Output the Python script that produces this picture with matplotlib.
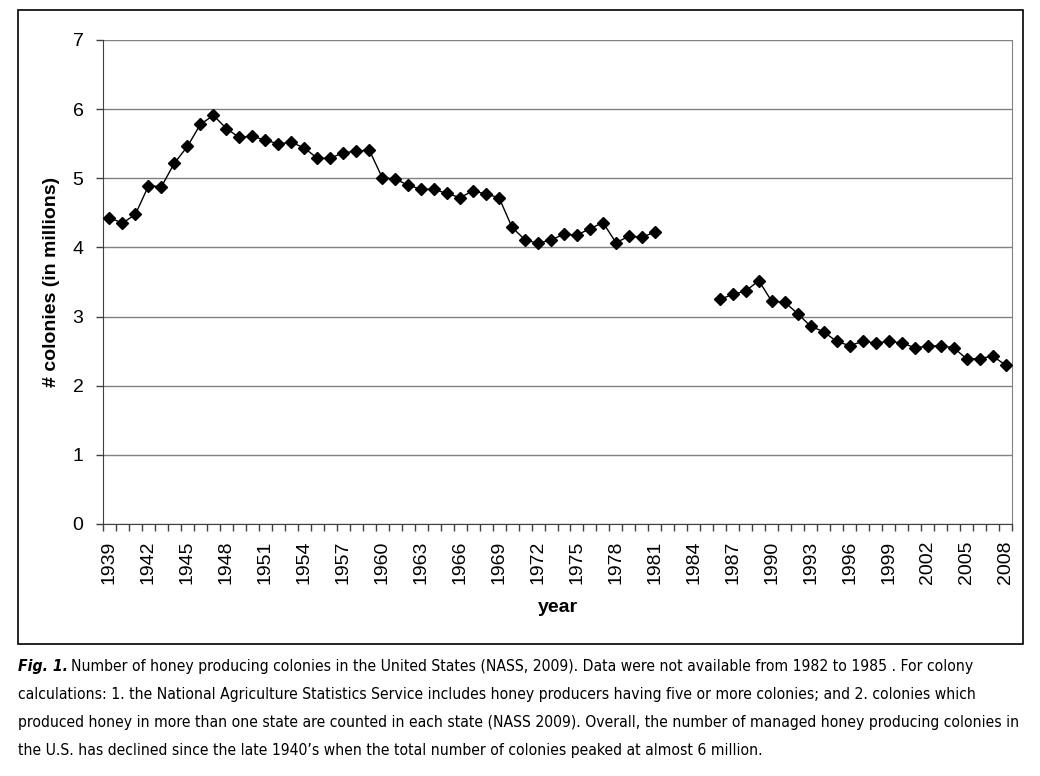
import numpy as np
import matplotlib
matplotlib.use('Agg')
import matplotlib.pyplot as plt
from matplotlib import font_manager
from matplotlib.patches import Rectangle

years = list(range(1939, 2009))
colonies = [4.43, 4.35, 4.48, 4.89, 4.88, 5.22, 5.46, 5.78, 5.91, 5.72,
            5.59, 5.61, 5.55, 5.50, 5.52, 5.44, 5.29, 5.29, 5.37, 5.39,
            5.41, 5.01, 4.99, 4.90, 4.84, 4.84, 4.78, 4.72, 4.82, 4.77,
            4.72, 4.29, 4.11, 4.06, 4.11, 4.19, 4.18, 4.27, 4.36, 4.07,
            4.16, 4.15, 4.22, np.nan, np.nan, np.nan, np.nan, 3.25, 3.32, 3.37,
            3.52, 3.22, 3.21, 3.04, 2.86, 2.78, 2.64, 2.58, 2.64, 2.62,
            2.64, 2.62, 2.55, 2.57, 2.58, 2.55, 2.39, 2.39, 2.43, 2.30]
y_ticks = [0, 1, 2, 3, 4, 5, 6, 7]

caption_lines = [
    "Number of honey producing colonies in the United States (NASS, 2009). Data were not available from 1982 to 1985 . For colony",
    "calculations: 1. the National Agriculture Statistics Service includes honey producers having five or more colonies; and 2. colonies which",
    "produced honey in more than one state are counted in each state (NASS 2009). Overall, the number of managed honey producing colonies in",
    "the U.S. has declined since the late 1940\u2019s when the total number of colonies peaked at almost 6 million.",
]

names = {f.name for f in font_manager.fontManager.ttflist}
cap_font = 'Liberation Sans Narrow' if 'Liberation Sans Narrow' in names else 'DejaVu Sans'
plt.rcParams['font.family'] = ['Liberation Sans', 'DejaVu Sans']

W, H = 1040, 776
fig = plt.figure(figsize=(W / 100, H / 100), dpi=100)
ax = fig.add_axes([103 / W, 1 - 524 / H, (1012 - 103) / W, (524 - 40) / H])

x = np.arange(len(years))
ax.plot(x, colonies, color='black', lw=1, marker='D', markersize=6, zorder=3)

ax.set_xlim(-0.5, len(years) - 0.5)
ax.set_ylim(0, 7)
ax.set_yticks(y_ticks)
ax.yaxis.grid(True, color='#808080', lw=1)
ax.set_axisbelow(True)

ax.set_xticks(x[::3])
ax.set_xticklabels([str(y) for y in years[::3]], rotation=90)
ax.set_xticks(np.arange(-0.5, len(years)), minor=True)
ax.tick_params(axis='x', which='major', length=0, pad=12, labelsize=14)
ax.tick_params(axis='x', which='minor', length=5, width=1, color='#404040', direction='out')
ax.tick_params(axis='y', length=5, width=1, color='#404040', pad=9, labelsize=14)

ax.spines['top'].set_visible(False)
ax.spines['right'].set_color('#808080')
ax.spines['left'].set_color('#404040')
ax.spines['bottom'].set_color('#404040')

ax.set_ylabel('# colonies (in millions)', fontsize=14, fontweight='bold', labelpad=9)
ax.set_xlabel('year', fontsize=14, fontweight='bold', labelpad=11)

fig.add_artist(Rectangle((18 / W, 1 - 644 / H), 1005 / W, 634 / H, transform=fig.transFigure,
                         fill=False, edgecolor='black', lw=1.2))

# caption: size picked so lines end near where the reference's do
line_y = [667, 695, 723, 751]
r = fig.canvas.get_renderer()
p1 = fig.text(0, 0, 'Fig. 1. ' + caption_lines[0], fontsize=10, family=cap_font,
              fontstretch='condensed')
p3 = fig.text(0, 0, caption_lines[2], fontsize=10, family=cap_font, fontstretch='condensed')
w1 = p1.get_window_extent(renderer=r).width
w3 = p3.get_window_extent(renderer=r).width
p1.remove()
p3.remove()
cap_size = 10 * min((987 - 18) / w1, (1020 - 18) / w3)

fig_lbl = fig.text(18 / W, 1 - line_y[0] / H, 'Fig. 1.', fontsize=cap_size, family=cap_font,
                   fontstretch='condensed', fontweight='bold', fontstyle='italic', va='center')
bb = fig_lbl.get_window_extent(renderer=r)
for i, line in enumerate(caption_lines):
    x0 = (bb.x1 + 3) / W if i == 0 else 18 / W
    fig.text(x0, 1 - line_y[i] / H, line, fontsize=cap_size, family=cap_font,
             fontstretch='condensed', va='center')

fig.savefig('out.png', dpi=100)
